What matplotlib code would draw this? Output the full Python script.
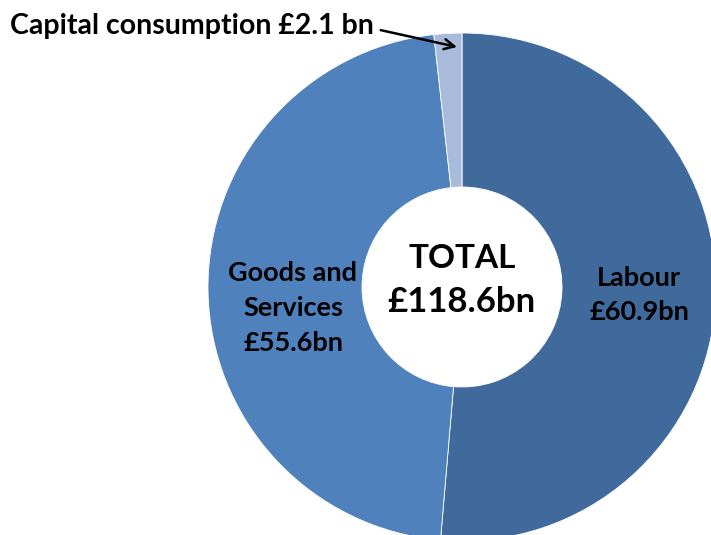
import matplotlib
matplotlib.use("Agg")
import matplotlib.pyplot as plt

categories = ["Labour", "Goods and Services", "Capital consumption"]
values_bn = [60.9, 55.6, 2.1]
total_bn = 118.6
colors = ["#416a9c", "#4f81bd", "#a9bbda"]

W, H = 711, 535
fig = plt.figure(figsize=(W / 100, H / 100), dpi=100)
ax = fig.add_axes([0, 0, 1, 1])

cx, cy = 462, H - 287
R = 254
hole = 100

ax.pie(values_bn, colors=colors, startangle=90, counterclock=False,
       center=(cx, cy), radius=R, frame=True,
       wedgeprops=dict(width=R - hole, edgecolor="white", linewidth=0.6))
ax.set_xlim(0, W)
ax.set_ylim(0, H)
ax.set_aspect("equal")
ax.axis("off")

font = ["Lato", "DejaVu Sans"]

ax.text(cx, H - 258, "TOTAL", ha="center", va="center", fontsize=24,
        fontweight="bold", family=font)
ax.text(cx, H - 302, f"£{total_bn}bn", ha="center", va="center", fontsize=25,
        fontweight="bold", family=font)

ax.text(639, H - 295, f"Labour\n£{values_bn[0]}bn", ha="center", va="center",
        fontsize=19.5, fontweight="bold", family=font, linespacing=1.55)
ax.text(293, H - 308, f"Goods and\nServices\n£{values_bn[1]}bn", ha="center",
        va="center", fontsize=19.5, fontweight="bold", family=font,
        linespacing=1.55)

ax.annotate(f"Capital consumption £{values_bn[2]} bn", xy=(457, H - 47),
            xytext=(10, H - 26), ha="left", va="center", fontsize=20.5,
            fontweight="bold", family=font,
            arrowprops=dict(arrowstyle="->", color="black", lw=1.8,
                            mutation_scale=18, shrinkA=3, shrinkB=0,
                            relpos=(1.0, 0.4)))

fig.savefig("out.png", dpi=100)
